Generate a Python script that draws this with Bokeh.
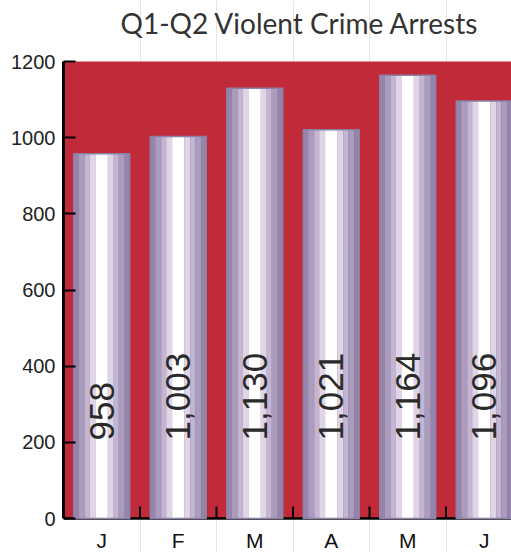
import numpy as np
from bokeh.plotting import figure
from bokeh.models import Range1d, FixedTicker, BoxAnnotation, ColumnDataSource
from bokeh.core.properties import value
from bokeh.embed import file_html
from bokeh.resources import INLINE

# ---- data ----
months = ["J", "F", "M", "A", "M", "J"]
arrests = [958, 1003, 1130, 1021, 1164, 1096]
arrest_labels = ["958", "1,003", "1,130", "1,021", "1,164", "1,096"]
y_ticks = [0, 200, 400, 600, 800, 1000, 1200]
title_text = "Q1-Q2 Violent Crime Arrests"

# ---- layout constants (pixels) ----
W, H = 511, 552
LEFT = 63
TOP_PX = 61              # figure y of value 1200
ZERO_PX = 518            # figure y of value 0
PPU = (ZERO_PX - TOP_PX) / 1200.0
y_min = -(H - ZERO_PX) / PPU
y_max = 1200 + TOP_PX / PPU
cat_px = 76.5
x_end = (W - LEFT) / cat_px

p = figure(width=W, height=H, output_backend="svg", toolbar_location=None,
           x_range=Range1d(0, x_end), y_range=Range1d(y_min, y_max),
           x_axis_location=None, min_border_left=LEFT, min_border_right=0,
           min_border_top=0, min_border_bottom=0, tools="")
p.outline_line_color = None
p.background_fill_color = "white"
p.border_fill_color = "white"
p.ygrid.grid_line_color = None

# red plot area (0..1200)
p.add_layout(BoxAnnotation(bottom=0, top=1200, fill_color="#c12a38", fill_alpha=1,
                           line_color=None, level="underlay"))

n = len(months)
centers = np.arange(n) + 0.5

# x axis baseline and between-category ticks
p.line(x=[0, n], y=[0, 0], line_color="black", line_width=2.5)
tick_len = 12 / PPU
tx = np.arange(1, n)
p.segment(x0=tx, y0=np.zeros(len(tx)), x1=tx, y1=np.full(len(tx), tick_len),
          line_color="black", line_width=2)

# striped cylinder-like bars
bar_w = 56 / cat_px
stripe_px = [5, 6, 5, 6, 12, 6, 5, 6, 5]
stripe_col = ["#9385ab", "#a99dbf", "#c1b7d4", "#ddd6e8", "#ffffff",
              "#ddd6e8", "#c1b7d4", "#a99dbf", "#9385ab"]
tot = float(sum(stripe_px))
pos = -bar_w / 2
for w, c in zip(stripe_px, stripe_col):
    sw = bar_w * w / tot
    off = pos + sw / 2
    p.vbar(x=centers + off, width=sw * 1.02, bottom=0, top=arrests,
           fill_color=c, line_color=None)
    pos += sw
p.vbar(x=centers, width=bar_w, bottom=0, top=arrests, fill_color=None,
       line_color="#8d80a6", line_width=1.5)

# value labels (rotated)
src = ColumnDataSource(dict(x=centers, y=[205] * n, t=arrest_labels))
p.text(x="x", y="y", text="t", source=src, angle=np.pi / 2,
       text_align="left", text_baseline="middle",
       text_font=value("Liberation Sans"), text_font_size="35px",
       text_color="#2a2a2a")

# month labels (category axis labels)
msrc = ColumnDataSource(dict(x=centers, y=[-21.5 / PPU] * n, t=months))
p.text(x="x", y="y", text="t", source=msrc, text_align="center",
       text_baseline="middle", text_font=value("Liberation Sans"),
       text_font_size="21px", text_color="#111111")

# title
p.text(x=[(120 - LEFT) / cat_px], y=[1200 + (TOP_PX - 22.5) / PPU], text=[title_text],
       text_align="left", text_baseline="middle", text_font=value("Lato"),
       text_font_size="28px", text_color="#333333")

# y axis
ax = p.yaxis[0]
ax.ticker = FixedTicker(ticks=y_ticks)
ax.bounds = (0, 1200)
ax.axis_line_color = "black"
ax.axis_line_width = 3
ax.major_tick_in = 12
ax.major_tick_out = 0
ax.major_tick_line_width = 2
ax.minor_tick_line_color = None
ax.major_label_text_font = "Liberation Sans"
ax.major_label_text_font_size = "20px"
ax.major_label_text_color = "#222222"
ax.major_label_standoff = 8

open("out.html", "w").write(file_html(p, INLINE))
